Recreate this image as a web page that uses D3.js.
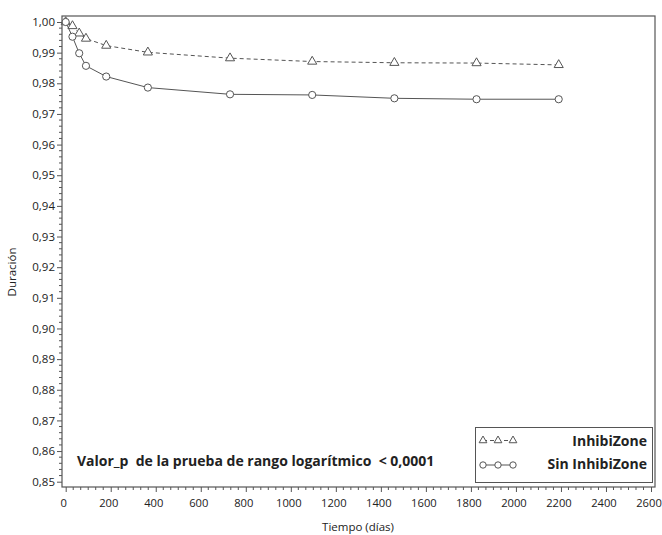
<!DOCTYPE html>
<html><head><meta charset="utf-8">
<script src="https://cdn.jsdelivr.net/npm/d3@7"></script>
<style>body{margin:0;background:#fff}svg{display:block}text{font-family:"Open Sans",sans-serif;fill:#222}</style>
</head><body><svg id="c" width="662" height="535"></svg>
<script>
const days = [0, 30, 60, 90, 180, 365, 730, 1095, 1460, 1825, 2190];
const inhibiZone = [1.0, 0.9987, 0.9963, 0.9946, 0.9923, 0.9901, 0.9882, 0.9871, 0.9867, 0.9866, 0.9860];
const sinInhibiZone = [1.0, 0.9952, 0.9898, 0.9857, 0.9822, 0.9786, 0.9764, 0.9762, 0.9751, 0.9748, 0.9748];
const xTicks = d3.range(0, 2601, 200);
const yTicks = d3.range(85, 101, 1).map(v => v / 100);
const seriesNames = ["InhibiZone", "Sin InhibiZone"];
const annotation = "Valor_p  de la prueba de rango logarítmico  < 0,0001";

const svg = d3.select("#c");
const x = d3.scaleLinear().domain([0, 2600]).range([65.7, 651]);
const y = d3.scaleLinear().domain([0.85, 1.0]).range([481.7, 22]);
const frame = {l: 62, t: 16, r: 655, b: 487};
const gray = "#555";

svg.append("rect").attr("x", frame.l).attr("y", frame.t)
  .attr("width", frame.r - frame.l).attr("height", frame.b - frame.t)
  .attr("fill", "none").attr("stroke", gray).attr("stroke-width", 1.2);

// x axis
const xa = svg.append("g").attr("transform", `translate(0,${frame.b})`)
  .call(d3.axisBottom(x).tickValues(xTicks).tickFormat(d3.format("d")).tickSize(5).tickSizeOuter(0));
xa.select(".domain").remove();
xa.selectAll("text").attr("font-size", 11.2).attr("dy", "1.1em").attr("dx", -2.5).attr("fill", "#222");
xa.selectAll("line").attr("stroke", gray);
const xMinor = d3.range(0, 2600, 200 / 6).filter((v, i) => i % 6 !== 0);
svg.append("g").selectAll("line").data(xMinor).join("line")
  .attr("x1", d => x(d)).attr("x2", d => x(d)).attr("y1", frame.b).attr("y2", frame.b + 3)
  .attr("stroke", gray);

// y axis
const ya = svg.append("g").attr("transform", `translate(${frame.l},0)`)
  .call(d3.axisLeft(y).tickValues(yTicks).tickFormat(d => d3.format(".2f")(d).replace(".", ",")).tickSize(5).tickSizeOuter(0));
ya.select(".domain").remove();
ya.selectAll("text").attr("font-size", 11.5).attr("fill", "#222").attr("x", -7);
ya.selectAll("line").attr("stroke", gray);
const yMinor = d3.range(850, 1000, 2).filter(v => v % 10 !== 0).map(v => v / 1000);
svg.append("g").selectAll("line").data(yMinor).join("line")
  .attr("x1", frame.l - 3).attr("x2", frame.l).attr("y1", d => y(d)).attr("y2", d => y(d))
  .attr("stroke", gray);

// axis titles
svg.append("text").attr("x", 358).attr("y", 531).attr("text-anchor", "middle")
  .attr("font-size", 11.5).text("Tiempo (días)");
svg.append("text").attr("transform", "translate(16,272) rotate(-90)").attr("text-anchor", "middle")
  .attr("font-size", 11.5).text("Duración");

// lines
const line = d3.line().x(d => x(d[0])).y(d => y(d[1]));
const triPath = d3.symbol().type(d3.symbolTriangle).size(36);
const s1 = days.map((d, i) => [d, inhibiZone[i]]);
const s2 = days.map((d, i) => [d, sinInhibiZone[i]]);
svg.append("path").datum(s1).attr("d", line).attr("fill", "none").attr("stroke", gray)
  .attr("stroke-width", 1).attr("stroke-dasharray", "4,3");
svg.append("path").datum(s2).attr("d", line).attr("fill", "none").attr("stroke", gray)
  .attr("stroke-width", 1);
svg.append("g").selectAll("path").data(s1).join("path").attr("d", triPath())
  .attr("transform", d => `translate(${x(d[0])},${y(d[1])})`)
  .attr("fill", "#fff").attr("stroke", gray).attr("stroke-width", 1);
svg.append("g").selectAll("circle").data(s2).join("circle")
  .attr("cx", d => x(d[0])).attr("cy", d => y(d[1])).attr("r", 3.6)
  .attr("fill", "#fff").attr("stroke", gray).attr("stroke-width", 1);

// annotation
svg.append("text").attr("x", 77).attr("y", 466).attr("font-size", 14).attr("font-weight", "bold")
  .attr("xml:space", "preserve").style("white-space", "pre").text(annotation);

// legend
const lg = svg.append("g");
lg.append("rect").attr("x", 475.5).attr("y", 427.5).attr("width", 177).attr("height", 55)
  .attr("fill", "#fff").attr("stroke", gray).attr("stroke-width", 1);
const lrows = [440.5, 465];
const lx = [483, 498, 513];
lg.append("line").attr("x1", lx[0]).attr("x2", lx[2]).attr("y1", lrows[0]).attr("y2", lrows[0])
  .attr("stroke", gray).attr("stroke-dasharray", "4,3");
lg.append("line").attr("x1", lx[0]).attr("x2", lx[2]).attr("y1", lrows[1]).attr("y2", lrows[1])
  .attr("stroke", gray);
lx.forEach(px => {
  lg.append("path").attr("d", d3.symbol().type(d3.symbolTriangle).size(26)())
    .attr("transform", `translate(${px},${lrows[0]})`).attr("fill", "#fff").attr("stroke", gray);
  lg.append("circle").attr("cx", px).attr("cy", lrows[1]).attr("r", 3.2)
    .attr("fill", "#fff").attr("stroke", gray);
});
lg.selectAll("text.l").data(seriesNames).join("text").attr("class", "l")
  .attr("x", 647).attr("y", (d, i) => [446, 469][i]).attr("text-anchor", "end")
  .attr("font-size", 14).attr("font-weight", "bold").text(d => d);
</script></body></html>
